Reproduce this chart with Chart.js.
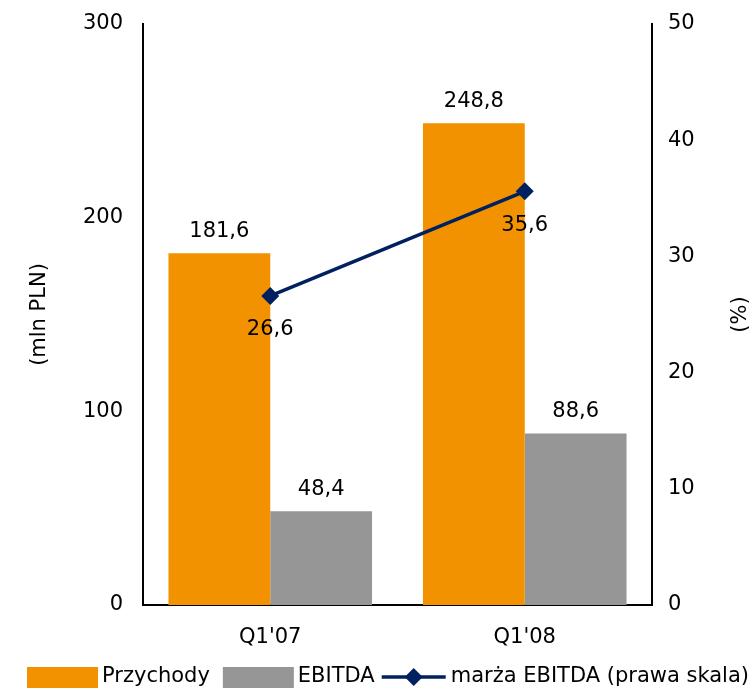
<!DOCTYPE html>
<html><head><meta charset="utf-8">
<script src="https://cdn.jsdelivr.net/npm/chart.js@4.4.0/dist/chart.umd.min.js"></script>
<style>html,body{margin:0;padding:0;background:#fff}#wrap{width:756px;height:692px}</style>
</head><body><div id="wrap"><canvas id="c" width="756" height="692"></canvas></div>
<script>
const categories = ["Q1'07", "Q1'08"];
const przychody = [181.6, 248.8];
const ebitda = [48.4, 88.6];
const marza = [26.6, 35.6];
const leftTicks = [0, 100, 200, 300];
const rightTicks = [0, 10, 20, 30, 40, 50];
const seriesNames = ["Przychody", "EBITDA", "marża EBITDA (prawa skala)"];
const leftTitle = "(mln PLN)";
const rightTitle = "(%)";

const ORANGE = '#F39200', GRAY = '#969696', NAVY = '#002060';
const FONT = "'DejaVu Sans', sans-serif";
const FS = 21;

const fmt = v => v.toFixed(1).replace('.', ',');

const labelsPlugin = {
  id: 'vals',
  afterDatasetsDraw(chart){
    const ctx = chart.ctx; ctx.save();
    ctx.font = FS + "px " + FONT; ctx.fillStyle = '#000'; ctx.textAlign = 'center'; ctx.textBaseline = 'middle';
    chart.data.datasets.forEach((ds, i) => {
      const meta = chart.getDatasetMeta(i);
      meta.data.forEach((el, j) => {
        const v = ds.data[j];
        if (ds.type === 'line') ctx.fillText(fmt(v), el.x, el.y + 34);
        else ctx.fillText(fmt(v), el.x, el.y - 22);
      });
    });
    const ca = chart.chartArea; const cy = (ca.top + ca.bottom) / 2;
    ctx.save(); ctx.translate(40, cy); ctx.rotate(-Math.PI/2); ctx.fillText(leftTitle, 0, 0); ctx.restore();
    ctx.save(); ctx.translate(741, cy); ctx.rotate(-Math.PI/2); ctx.fillText(rightTitle, 0, 0); ctx.restore();

    // legend
    const ly = 677;
    ctx.textAlign = 'left';
    let x = 27;
    const items = [1, 2, 0].map(di => chart.data.datasets[di]);
    items.forEach((ds, k) => {
      if (ds.type === 'line') {
        ctx.strokeStyle = ds.borderColor; ctx.lineWidth = 3.5;
        ctx.beginPath(); ctx.moveTo(x, ly); ctx.lineTo(x + 64, ly); ctx.stroke();
        ctx.fillStyle = ds.borderColor; ctx.beginPath();
        ctx.moveTo(x + 32, ly - 9); ctx.lineTo(x + 41, ly); ctx.lineTo(x + 32, ly + 9); ctx.lineTo(x + 23, ly); ctx.closePath(); ctx.fill();
        x += 64 + 5;
      } else {
        ctx.fillStyle = ds.backgroundColor; ctx.fillRect(x, ly - 10, 71, 21);
        x += 71 + 4;
      }
      ctx.fillStyle = '#000';
      ctx.fillText(ds.label, x, ly);
      x += ctx.measureText(ds.label).width + (k === 0 ? 13 : 7);
    });
    ctx.restore();
  }
};

new Chart(document.getElementById('c'), {
  data: {
    labels: categories,
    datasets: [
      { type: 'line', label: seriesNames[2], data: marza, yAxisID: 'y1', borderColor: NAVY, backgroundColor: NAVY,
        borderWidth: 3.5, pointStyle: 'rectRot', pointRadius: 9, pointHoverRadius: 9, pointBackgroundColor: NAVY, pointBorderWidth: 0, order: 0 },
      { type: 'bar', label: seriesNames[0], data: przychody, yAxisID: 'y', backgroundColor: ORANGE, barPercentage: 1, categoryPercentage: 0.8, order: 1 },
      { type: 'bar', label: seriesNames[1], data: ebitda, yAxisID: 'y', backgroundColor: GRAY, barPercentage: 1, categoryPercentage: 0.8, order: 1 }
    ]
  },
  options: {
    responsive: false, animation: false, devicePixelRatio: 1,
    layout: { autoPadding: false, padding: { top: 24, left: 0, right: 0, bottom: 42 } },
    plugins: { tooltip: { enabled: false }, legend: { display: false } },
    scales: {
      x: {
        afterFit: s => { s.height = 45; s.paddingLeft = 0; s.paddingRight = 0; s.paddingTop = 0; s.paddingBottom = 0; },
        grid: { display: false, drawTicks: false }, border: { display: true, color: '#000', width: 2 },
        ticks: { color: '#000', font: { family: FONT, size: FS }, padding: 20 }
      },
      y: {
        position: 'left', min: 0, max: 300,
        afterBuildTicks: s => { s.ticks = leftTicks.map(v => ({ value: v })); },
        afterFit: s => { s.width = 143; s.paddingTop = 0; s.paddingBottom = 0; },
        grid: { display: false, drawTicks: false }, border: { display: true, color: '#000', width: 2 },
        ticks: { color: '#000', font: { family: FONT, size: FS }, padding: 20 }
      },
      y1: {
        position: 'right', min: 0, max: 50,
        afterBuildTicks: s => { s.ticks = rightTicks.map(v => ({ value: v })); },
        afterFit: s => { s.width = 104; s.paddingTop = 0; s.paddingBottom = 0; },
        grid: { display: false, drawTicks: false }, border: { display: true, color: '#000', width: 2 },
        ticks: { color: '#000', font: { family: FONT, size: FS }, padding: 16 }
      }
    }
  },
  plugins: [labelsPlugin]
});
</script></body></html>
